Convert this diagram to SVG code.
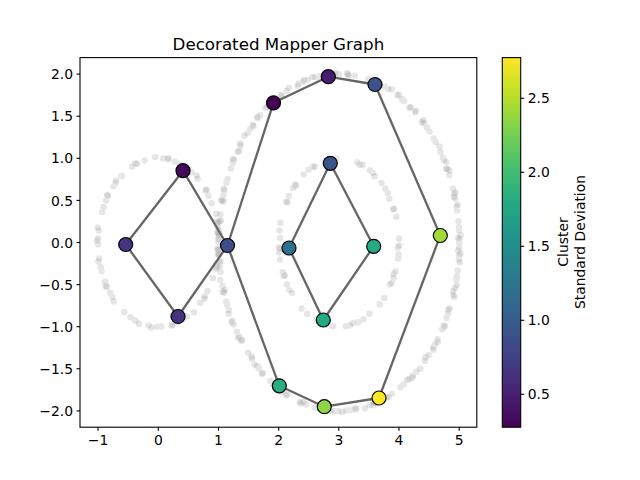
<svg xmlns="http://www.w3.org/2000/svg" width="640" height="480" viewBox="0 0 640 480">
<defs>
<linearGradient id="viridis" x1="0" y1="1" x2="0" y2="0">
<stop offset="0" stop-color="#440154"/>
<stop offset="0.1" stop-color="#482475"/>
<stop offset="0.2" stop-color="#414487"/>
<stop offset="0.3" stop-color="#355f8d"/>
<stop offset="0.4" stop-color="#2a788e"/>
<stop offset="0.5" stop-color="#21918c"/>
<stop offset="0.6" stop-color="#22a884"/>
<stop offset="0.7" stop-color="#44bf70"/>
<stop offset="0.8" stop-color="#7ad151"/>
<stop offset="0.9" stop-color="#bddf26"/>
<stop offset="1" stop-color="#fde725"/>
</linearGradient>
</defs>
<style>
text{font-family:"DejaVu Sans","Liberation Sans",sans-serif;fill:#000}
.tick{font-size:13.9px}
.title{font-size:16.7px}
.ax{stroke:#000;stroke-width:1.1;fill:none}
.pts{fill:none;stroke:#808080;stroke-opacity:0.2;stroke-width:6.5;stroke-linecap:round}
.edge{stroke:#666;stroke-width:2.3;fill:none}
.node{stroke:#000;stroke-width:1.2}
</style>
<rect width="640" height="480" fill="#fff"/>
<text class="title" x="278.4" y="50" text-anchor="middle">Decorated Mapper Graph</text>

<g id="points">
<ellipse class="pts" cx="158.3" cy="242.5" rx="60.2" ry="84.2" stroke-dasharray="0 7 0 5 0 11 0 4 0 9 0 14 0 6 0 8 0 19 0 5" stroke-dashoffset="0"/>
<ellipse class="pts" cx="158.3" cy="242.5" rx="61.5" ry="85.5" stroke-dasharray="0 21 0 13 0 34 0 17 0 26" stroke-dashoffset="9"/>
<ellipse class="pts" cx="339" cy="242.5" rx="60.2" ry="84.2" stroke-dasharray="0 6 0 9 0 4 0 13 0 7 0 5 0 17 0 8 0 22" stroke-dashoffset="3"/>
<ellipse class="pts" cx="339" cy="242.5" rx="59" ry="83" stroke-dasharray="0 19 0 27 0 11 0 36" stroke-dashoffset="14"/>
<ellipse class="pts" cx="339" cy="242.5" rx="120.4" ry="168.4" stroke-dasharray="0 5 0 8 0 4 0 11 0 6 0 3 0 9 0 7 0 14 0 5" stroke-dashoffset="0"/>
<ellipse class="pts" cx="339" cy="242.5" rx="121.8" ry="169.6" stroke-dasharray="0 17 0 9 0 23 0 12 0 31" stroke-dashoffset="6"/>
<ellipse class="pts" cx="339" cy="242.5" rx="119.2" ry="167.2" stroke-dasharray="0 29 0 41 0 19 0 53" stroke-dashoffset="21"/>
</g>

<g id="connectors" class="edge">
<line x1="125.7" y1="244.5" x2="183" y2="170.7"/>
<line x1="125.7" y1="244.5" x2="178" y2="316.5"/>
<line x1="183" y1="170.7" x2="227.5" y2="245.5"/>
<line x1="178" y1="316.5" x2="227.5" y2="245.5"/>
<line x1="227.5" y1="245.5" x2="273.5" y2="102.8"/>
<line x1="227.5" y1="245.5" x2="279.3" y2="385.8"/>
<line x1="273.5" y1="102.8" x2="328.3" y2="76.7"/>
<line x1="328.3" y1="76.7" x2="375" y2="84.5"/>
<line x1="375" y1="84.5" x2="440.3" y2="235.5"/>
<line x1="440.3" y1="235.5" x2="379" y2="398"/>
<line x1="379" y1="398" x2="324.3" y2="406.7"/>
<line x1="324.3" y1="406.7" x2="279.3" y2="385.8"/>
<line x1="330.3" y1="163.3" x2="289" y2="248"/>
<line x1="330.3" y1="163.3" x2="373.7" y2="246.3"/>
<line x1="289" y1="248" x2="323.3" y2="320"/>
<line x1="373.7" y1="246.3" x2="323.3" y2="320"/>
</g>

<g id="n1"><circle class="node" cx="125.7" cy="244.5" r="7" fill="#463480"/></g>
<g id="n2"><circle class="node" cx="183" cy="170.7" r="7" fill="#450a5c"/></g>
<g id="n3"><circle class="node" cx="178" cy="316.5" r="7" fill="#46337f"/></g>
<g id="n4"><circle class="node" cx="227.5" cy="245.5" r="7" fill="#3d4e8a"/></g>
<g id="n5"><circle class="node" cx="273.5" cy="102.8" r="7" fill="#440154"/></g>
<g id="n6"><circle class="node" cx="328.3" cy="76.7" r="7" fill="#481d6f"/></g>
<g id="n7"><circle class="node" cx="375" cy="84.5" r="7" fill="#3b528b"/></g>
<g id="n8"><circle class="node" cx="330.3" cy="163.3" r="7" fill="#3a538b"/></g>
<g id="n9"><circle class="node" cx="289" cy="248" r="7" fill="#2c718e"/></g>
<g id="n10"><circle class="node" cx="373.7" cy="246.3" r="7" fill="#25ab82"/></g>
<g id="n11"><circle class="node" cx="323.3" cy="320" r="7" fill="#24aa83"/></g>
<g id="n12"><circle class="node" cx="440.3" cy="235.5" r="7" fill="#a2da37"/></g>
<g id="n13"><circle class="node" cx="279.3" cy="385.8" r="7" fill="#28ae80"/></g>
<g id="n14"><circle class="node" cx="324.3" cy="406.7" r="7" fill="#8ed645"/></g>
<g id="n15"><circle class="node" cx="379" cy="398" r="7" fill="#fde725"/></g>

<g id="axes">
<rect class="ax" x="80" y="57.6" width="396.8" height="369.6"/>
<g stroke="#000" stroke-width="1.1">
<line x1="98" y1="427.2" x2="98" y2="430.7"/>
<line x1="158.3" y1="427.2" x2="158.3" y2="430.7"/>
<line x1="218.5" y1="427.2" x2="218.5" y2="430.7"/>
<line x1="278.7" y1="427.2" x2="278.7" y2="430.7"/>
<line x1="338.8" y1="427.2" x2="338.8" y2="430.7"/>
<line x1="399" y1="427.2" x2="399" y2="430.7"/>
<line x1="459.2" y1="427.2" x2="459.2" y2="430.7"/>
<line x1="76.5" y1="74.1" x2="80" y2="74.1"/>
<line x1="76.5" y1="116.2" x2="80" y2="116.2"/>
<line x1="76.5" y1="158.3" x2="80" y2="158.3"/>
<line x1="76.5" y1="200.4" x2="80" y2="200.4"/>
<line x1="76.5" y1="242.5" x2="80" y2="242.5"/>
<line x1="76.5" y1="284.6" x2="80" y2="284.6"/>
<line x1="76.5" y1="326.7" x2="80" y2="326.7"/>
<line x1="76.5" y1="368.8" x2="80" y2="368.8"/>
<line x1="76.5" y1="410.9" x2="80" y2="410.9"/>
</g>
<g class="tick" text-anchor="middle">
<text x="98" y="445">−1</text>
<text x="158.3" y="445">0</text>
<text x="218.5" y="445">1</text>
<text x="278.7" y="445">2</text>
<text x="338.8" y="445">3</text>
<text x="399" y="445">4</text>
<text x="459.2" y="445">5</text>
</g>
<g class="tick" text-anchor="end">
<text x="73" y="79.2">2.0</text>
<text x="73" y="121.3">1.5</text>
<text x="73" y="163.4">1.0</text>
<text x="73" y="205.5">0.5</text>
<text x="73" y="247.6">0.0</text>
<text x="73" y="289.7">−0.5</text>
<text x="73" y="331.8">−1.0</text>
<text x="73" y="373.9">−1.5</text>
<text x="73" y="416">−2.0</text>
</g>
</g>

<g id="colorbar">
<rect x="502.3" y="57.6" width="18.4" height="369.6" fill="url(#viridis)" stroke="#000" stroke-width="1.1"/>
<g stroke="#000" stroke-width="1.1">
<line x1="520.7" y1="98.3" x2="524.2" y2="98.3"/>
<line x1="520.7" y1="172.3" x2="524.2" y2="172.3"/>
<line x1="520.7" y1="246.3" x2="524.2" y2="246.3"/>
<line x1="520.7" y1="320.3" x2="524.2" y2="320.3"/>
<line x1="520.7" y1="394.3" x2="524.2" y2="394.3"/>
</g>
<g class="tick">
<text x="527.7" y="103.4">2.5</text>
<text x="527.7" y="177.4">2.0</text>
<text x="527.7" y="251.4">1.5</text>
<text x="527.7" y="325.4">1.0</text>
<text x="527.7" y="399.4">0.5</text>
</g>
<g class="tick" text-anchor="middle">
<text transform="translate(568,242) rotate(-90)">Cluster</text>
<text transform="translate(585,242) rotate(-90)">Standard Deviation</text>
</g>
</g>
</svg>
